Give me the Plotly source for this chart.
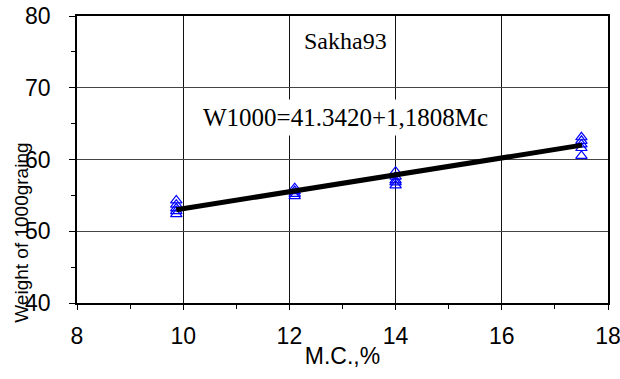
import plotly.graph_objects as go

# Data
mc_groups = [9.87, 12.1, 14.0, 17.5]
weights = [
    [54.3, 53.7, 53.2, 52.8, 52.4],
    [56.0, 55.6, 55.2, 54.9],
    [58.3, 57.6, 57.1, 56.8, 56.4],
    [63.1, 62.6, 62.1, 61.6, 60.5],
]
trend_x = [9.87, 17.51]
trend_y = [53.0, 62.0]

xs, ys = [], []
for mc, ws in zip(mc_groups, weights):
    for w in ws:
        xs.append(mc)
        ys.append(w)

fig = go.Figure()
fig.add_trace(go.Scatter(
    x=xs, y=ys, mode="markers",
    marker=dict(symbol="triangle-up-open", size=10, color="#0000FF",
                line=dict(color="#0000FF", width=1.2)),
    showlegend=False, hoverinfo="skip"))
fig.add_trace(go.Scatter(
    x=trend_x, y=trend_y, mode="lines",
    line=dict(color="black", width=5), showlegend=False, hoverinfo="skip"))

tick_font = dict(family="Liberation Sans, Arial, sans-serif", size=23, color="black")

fig.update_layout(
    width=620, height=379,
    margin=dict(l=77, r=12, t=16, b=76),
    paper_bgcolor="white", plot_bgcolor="white",
    xaxis=dict(range=[8, 18], dtick=2, tick0=8, automargin=False,
               ticklabeloverflow="allow",
               showgrid=True, gridcolor="#111", gridwidth=1,
               showline=True, linecolor="black", linewidth=1.5, mirror=True,
               ticks="outside", ticklen=5, tickcolor="black",
               minor=dict(dtick=1, ticks="outside", ticklen=4, tickcolor="black", showgrid=False),
               tickfont=tick_font, ticklabelstandoff=7,
               zeroline=False,
               title=dict(text="M.C.,%", font=tick_font, standoff=0)),
    yaxis=dict(range=[40, 80], dtick=10, tick0=40, automargin=False,
               ticklabeloverflow="allow",
               showgrid=True, gridcolor="#444", gridwidth=1,
               showline=True, linecolor="black", linewidth=1.5, mirror=True,
               ticks="outside", ticklen=6, tickcolor="black",
               minor=dict(dtick=5, ticks="outside", ticklen=4, tickcolor="black", showgrid=False),
               tickfont=tick_font, ticklabelstandoff=14,
               zeroline=False),
    annotations=[
        dict(text="Sakha93", xref="x", yref="y", x=13.05, y=76.5,
             showarrow=False, bgcolor="white", borderpad=3,
             font=dict(family="Liberation Serif, Times New Roman, serif", size=24, color="black")),
        dict(text="W1000=41.3420+1,1808Mc", xref="x", yref="y", x=13.05, y=65.8,
             showarrow=False, bgcolor="white", borderpad=4,
             font=dict(family="Liberation Serif, Times New Roman, serif", size=25, color="black")),
        dict(text="Weight of 1000graing", xref="paper", yref="paper",
             x=-0.104, y=0.244, xanchor="center", yanchor="middle",
             textangle=-90, showarrow=False,
             font=dict(family="Liberation Sans, Arial, sans-serif", size=19, color="#000000")),
    ],
)

fig.write_html("out.html")
